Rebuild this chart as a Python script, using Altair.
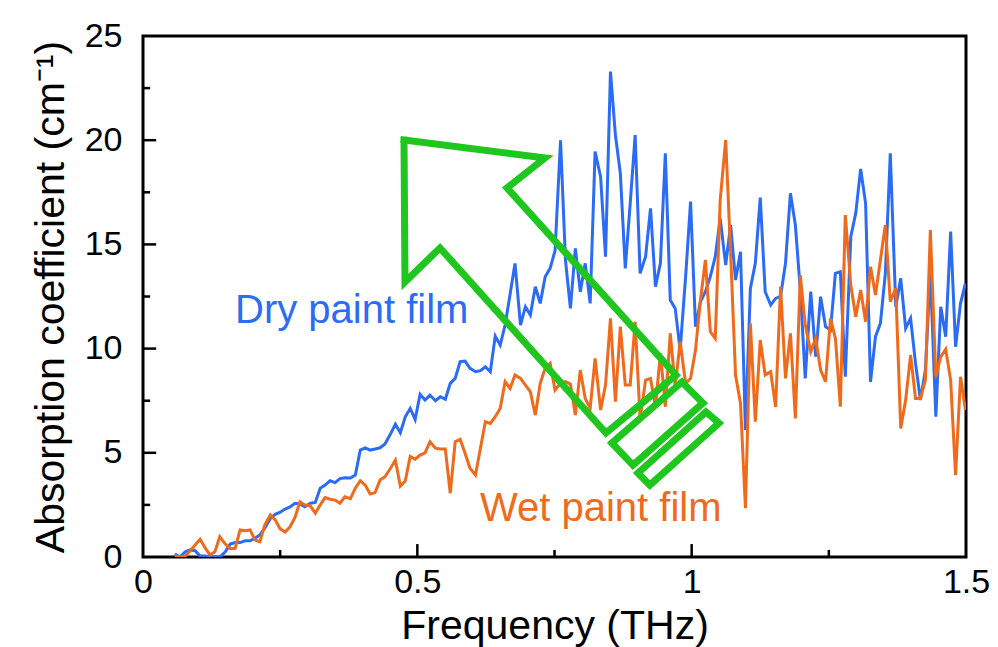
import altair as alt
import pandas as pd

# Frequency grid (THz)
freq = [0.058, 0.067, 0.077, 0.086, 0.095, 0.104, 0.113, 0.122, 0.131, 0.140,
        0.150, 0.159, 0.168, 0.177, 0.186, 0.195, 0.204, 0.213, 0.222, 0.232,
        0.241, 0.250, 0.259, 0.268, 0.277, 0.286, 0.295, 0.305, 0.314, 0.323,
        0.332, 0.341, 0.350, 0.359, 0.368, 0.378, 0.387, 0.396, 0.405, 0.414,
        0.423, 0.432, 0.441, 0.450, 0.460, 0.469, 0.478, 0.487, 0.496, 0.505,
        0.514, 0.523, 0.533, 0.542, 0.551, 0.560, 0.569, 0.578, 0.587, 0.596,
        0.606, 0.615, 0.624, 0.633, 0.642, 0.651, 0.660, 0.669, 0.678, 0.688,
        0.697, 0.706, 0.715, 0.724, 0.733, 0.742, 0.751, 0.761, 0.770, 0.779,
        0.788, 0.797, 0.806, 0.815, 0.824, 0.834, 0.843, 0.852, 0.861, 0.870,
        0.879, 0.888, 0.897, 0.906, 0.916, 0.925, 0.934, 0.943, 0.952, 0.961,
        0.970, 0.979, 0.989, 0.998, 1.007, 1.016, 1.025, 1.034, 1.043, 1.052,
        1.062, 1.071, 1.080, 1.089, 1.098, 1.107, 1.116, 1.125, 1.134, 1.144,
        1.153, 1.162, 1.171, 1.180, 1.189, 1.198, 1.207, 1.217, 1.226, 1.235,
        1.244, 1.253, 1.262, 1.271, 1.280, 1.290, 1.299, 1.308, 1.317, 1.326,
        1.335, 1.344, 1.353, 1.362, 1.372, 1.381, 1.390, 1.399, 1.408, 1.417,
        1.426, 1.435, 1.445, 1.454, 1.463, 1.472, 1.481, 1.490, 1.499]

dry = [0.14, 0.0, 0.25, 0.34, 0.3, 0.05, 0.05, 0.0, 0.0, 0.0,
       0.25, 0.62, 0.69, 0.69, 0.78, 0.78, 0.9, 1.06, 1.38, 1.85,
       2.05, 2.15, 2.3, 2.4, 2.58, 2.55, 2.41, 2.58, 2.62, 3.3,
       3.45, 3.66, 3.57, 3.76, 3.8, 3.79, 3.93, 5.13, 5.24, 5.13,
       5.18, 5.24, 5.42, 5.85, 6.37, 5.96, 6.73, 7.13, 6.6, 7.81,
       7.53, 7.77, 7.5, 7.69, 7.57, 8.33, 8.57, 9.37, 9.4, 9.05,
       8.89, 8.94, 9.13, 8.89, 10.6, 10.17, 11.13, 12.6, 14.09, 11.13,
       12.01, 11.61, 12.97, 12.17, 13.45, 13.85, 14.7, 20.0, 14.25, 11.93,
       14.81, 12.73, 14.09, 12.17, 19.45, 18.25, 14.41, 23.29, 20.25, 18.41,
       13.85, 16.97, 20.25, 13.61, 14.41, 16.73, 12.97, 14.09, 19.37, 12.33,
       11.93, 9.93, 13.45, 17.05, 11.05, 12.25, 12.73, 13.45, 14.41, 16.25,
       14.01, 15.93, 13.29, 14.65, 6.09, 12.89, 14.09, 17.25, 12.73, 12.09,
       12.41, 12.5, 14.09, 17.45, 15.93, 12.81, 8.57, 12.73, 9.61, 12.49,
       11.05, 10.89, 13.61, 13.69, 8.65, 15.37, 16.49, 18.62, 16.97, 8.4,
       10.57, 11.21, 13.61, 19.37, 12.01, 13.37, 10.97, 11.45, 9.29, 7.53,
       8.97, 13.69, 6.73, 12.01, 10.57, 15.61, 10.09, 12.17, 13.13]

wet = [0.05, 0.0, 0.05, 0.3, 0.58, 0.85, 0.45, 0.1, 0.25, 0.97,
       0.62, 0.4, 0.42, 1.3, 1.26, 1.3, 0.82, 0.73, 1.54, 2.02,
       1.78, 1.35, 1.2, 1.45, 1.9, 2.65, 2.5, 2.45, 2.1, 2.5,
       2.85, 2.77, 2.73, 2.58, 2.89, 2.8, 3.3, 3.66, 3.45, 3.02,
       3.09, 3.69, 3.85, 4.21, 4.65, 3.4, 3.65, 4.83, 4.69, 4.89,
       5.0, 5.53, 5.22, 5.18, 5.18, 3.06, 5.53, 5.65, 4.98, 4.26,
       3.93, 5.22, 6.49, 6.41, 6.73, 7.13, 8.41, 8.09, 8.73, 8.57,
       8.25, 7.93, 6.81, 8.33, 9.05, 9.29, 8.01, 8.33, 8.41, 8.3,
       6.81, 8.97, 7.61, 7.13, 9.53, 7.05, 8.25, 11.45, 7.45, 11.05,
       8.25, 8.25, 11.29, 6.65, 8.49, 8.57, 7.21, 9.77, 7.21, 10.73,
       8.17, 10.33, 8.33, 8.57, 9.93, 12.33, 14.25, 10.81, 10.49, 17.13,
       20.01, 14.57, 8.73, 7.37, 2.34, 11.21, 6.49, 10.41, 8.73, 8.89,
       7.2, 12.97, 8.57, 10.73, 6.65, 13.53, 11.13, 9.85, 10.49, 8.97,
       8.41, 11.45, 10.49, 7.21, 16.41, 13.05, 11.53, 12.81, 11.29, 13.93,
       12.57, 14.25, 15.93, 12.25, 12.89, 6.17, 7.53, 9.69, 7.61, 7.61,
       8.49, 15.69, 8.65, 9.61, 9.97, 8.49, 3.93, 8.65, 7.05]

x_ticks = [0, 0.5, 1, 1.5]
y_ticks = [0, 5, 10, 15, 20, 25]
x_minor = [0.25, 0.75, 1.25]
x_major_inner = [0.5, 1.0]
y_minor = [2.5, 7.5, 12.5, 17.5, 22.5]
y_major_inner = [5, 10, 15, 20]

# Green arrow annotation outline (data coordinates)
arrow_f = [0.4757, 0.7326, 0.6634, 0.9714, 0.8438, 0.5413, 0.4775, 0.4757]
arrow_v = [20.01, 19.15, 17.71, 8.73, 5.95, 14.83, 13.20, 20.01]
bar1_f = [0.8547, 0.9823, 1.0206, 0.8930, 0.8547]
bar1_v = [5.47, 8.40, 7.39, 4.41, 5.47]
bar2_f = [0.9021, 1.0260, 1.0497, 0.9237, 0.9021]
bar2_v = [4.03, 6.96, 6.43, 3.45, 4.03]

BLUE = "#2a6cf5"
ORANGE = "#f06a1c"
GREEN = "#1ec61e"
FONT = "Liberation Sans"
X_TITLE = "Frequency (THz)"
Y_TITLE = "Absorption coefficient (cm⁻¹)"

xs = alt.Scale(domain=[0, 1.5], nice=False, zero=False)
ys = alt.Scale(domain=[0, 25], nice=False, zero=False)
x_axis = alt.Axis(values=x_ticks, format="~g", ticks=False, domain=False,
                  grid=False, labelFlush=False, labelFontSize=34,
                  labelFont=FONT, labelColor="black", labelPadding=8,
                  titleFontSize=41, titleFont=FONT, titleFontWeight="normal",
                  titleColor="black", titlePadding=7)
y_axis = alt.Axis(values=y_ticks, ticks=False, domain=False, grid=False,
                  labelFlush=False, labelFontSize=34, labelFont=FONT,
                  labelColor="black", labelPadding=21,
                  titleFontSize=41, titleFont=FONT, titleFontWeight="normal",
                  titleColor="black", titlePadding=12)


def X(field):
    return alt.X(field, scale=xs, title=X_TITLE, axis=x_axis)


def Y(field):
    return alt.Y(field, scale=ys, title=Y_TITLE, axis=y_axis)


df = pd.DataFrame({
    "f": freq * 2,
    "v": dry + wet,
    "s": ["Dry"] * len(freq) + ["Wet"] * len(freq),
    "i": list(range(len(freq))) * 2,
})

lines = alt.Chart(df).mark_line(strokeWidth=3, clip=True).encode(
    x=X("f:Q"),
    y=Y("v:Q"),
    color=alt.Color("s:N", scale=alt.Scale(domain=["Dry", "Wet"], range=[BLUE, ORANGE]),
                    legend=None),
    order="i:Q",
)

# inward ticks
tick_rows = []
for t in x_major_inner:
    tick_rows.append({"f": t, "f2": t, "v": 0, "v2": 0.62})
for t in x_minor:
    tick_rows.append({"f": t, "f2": t, "v": 0, "v2": 0.34})
for t in y_major_inner:
    tick_rows.append({"f": 0, "f2": 0.024, "v": t, "v2": t})
for t in y_minor:
    tick_rows.append({"f": 0, "f2": 0.013, "v": t, "v2": t})
ticks = alt.Chart(pd.DataFrame(tick_rows)).mark_rule(color="black", strokeWidth=2.5).encode(
    x=X("f:Q"), x2="f2:Q",
    y=Y("v:Q"), y2="v2:Q",
)

labels = pd.DataFrame({
    "f": [0.1677, 0.6142],
    "v": [11.23, 1.73],
    "t": ["Dry paint film", "Wet paint film"],
    "c": [BLUE, ORANGE],
})
texts = alt.Chart(labels).mark_text(align="left", baseline="alphabetic", fontSize=40,
                                    font=FONT).encode(
    x=X("f:Q"),
    y=Y("v:Q"),
    text="t:N",
    color=alt.Color("c:N", scale=None),
)

shape_rows = []
for name, fs, vs in [("arrow", arrow_f, arrow_v), ("bar1", bar1_f, bar1_v), ("bar2", bar2_f, bar2_v)]:
    for j, (a, b) in enumerate(zip(fs, vs)):
        shape_rows.append({"f": a, "v": b, "o": j, "g": name})
arrow = alt.Chart(pd.DataFrame(shape_rows)).mark_line(
    color=GREEN, strokeWidth=7, strokeJoin="miter", strokeMiterLimit=10, strokeCap="square"
).encode(
    x=X("f:Q"),
    y=Y("v:Q"),
    order="o:Q",
    detail="g:N",
)

chart = alt.layer(lines, ticks, texts, arrow).properties(
    width=823, height=521,
    padding={"left": 143, "top": 36, "right": 32, "bottom": 90},
    autosize="none",
    background="white",
).configure_view(stroke="black", strokeWidth=3)

chart.save("out.html", embed_options={"renderer": "svg", "actions": False})
